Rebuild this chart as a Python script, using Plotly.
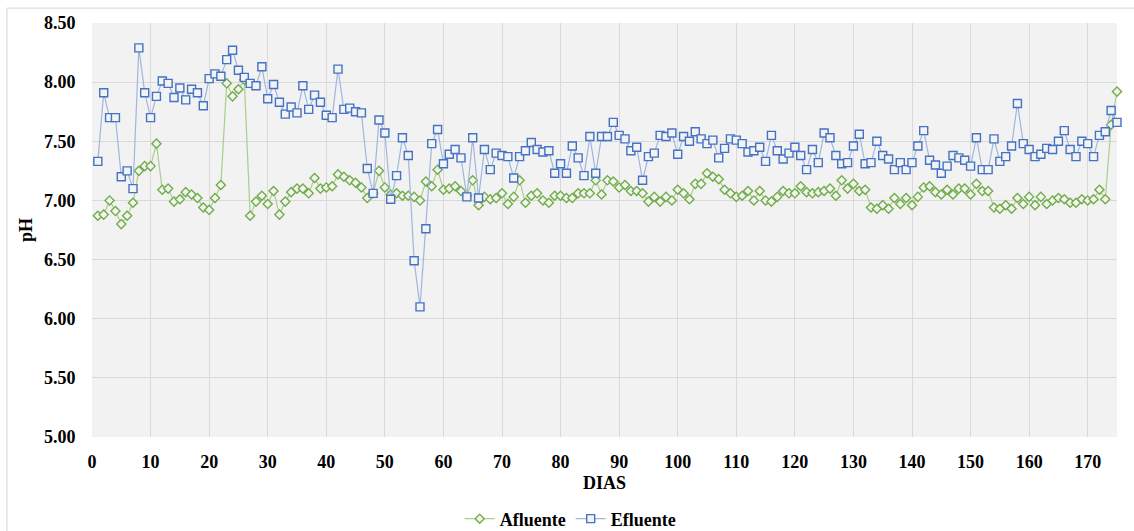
import plotly.graph_objects as go

dias = list(range(1, 176))

afluente = [
    6.87, 6.88, 7.00, 6.91, 6.80, 6.87, 6.98, 7.25, 7.29, 7.29,
    7.48, 7.09, 7.10, 6.99, 7.01, 7.07, 7.05, 7.02, 6.94, 6.92,
    7.02, 7.13, 7.99, 7.88, 7.94, 8.02, 6.87, 6.99, 7.04, 6.97,
    7.08, 6.88, 6.99, 7.07, 7.10, 7.10, 7.06, 7.19, 7.10, 7.11,
    7.12, 7.22, 7.20, 7.17, 7.15, 7.11, 7.02, 7.06, 7.25, 7.11,
    7.05, 7.06, 7.04, 7.04, 7.03, 7.00, 7.16, 7.12, 7.26, 7.09,
    7.10, 7.12, 7.08, 7.04, 7.17, 6.96, 7.03, 7.01, 7.02, 7.06,
    6.97, 7.03, 7.17, 6.98, 7.04, 7.06, 7.00, 6.98, 7.04, 7.04,
    7.02, 7.02, 7.06, 7.06, 7.06, 7.17, 7.05, 7.17, 7.16, 7.11,
    7.13, 7.08, 7.08, 7.06, 6.99, 7.03, 6.99, 7.03, 7.00, 7.09,
    7.06, 7.01, 7.14, 7.14, 7.23, 7.20, 7.18, 7.09, 7.06, 7.03,
    7.04, 7.08, 7.00, 7.08, 7.00, 6.99, 7.03, 7.08, 7.06, 7.06,
    7.12, 7.07, 7.06, 7.07, 7.08, 7.10, 7.04, 7.17, 7.10, 7.14,
    7.08, 7.09, 6.94, 6.93, 6.96, 6.93, 7.02, 6.97, 7.02, 6.96,
    7.03, 7.11, 7.12, 7.07, 7.05, 7.09, 7.05, 7.10, 7.10, 7.05,
    7.14, 7.08, 7.08, 6.94, 6.93, 6.96, 6.93, 7.02, 6.97, 7.03,
    6.96, 7.03, 6.97, 7.00, 7.02, 7.01, 6.98, 6.98, 7.01, 7.00,
    7.01, 7.09, 7.01, 7.64, 7.92,
]

efluente = [
    7.33, 7.91, 7.70, 7.70, 7.20, 7.25, 7.10, 8.29, 7.91, 7.70,
    7.88, 8.01, 7.99, 7.87, 7.95, 7.85, 7.94, 7.91, 7.80, 8.03,
    8.07, 8.05, 8.19, 8.27, 8.10, 8.04, 7.99, 7.97, 8.13, 7.86,
    7.98, 7.83, 7.73, 7.79, 7.74, 7.97, 7.77, 7.89, 7.83, 7.72,
    7.70, 8.11, 7.77, 7.78, 7.75, 7.74, 7.27, 7.06, 7.68, 7.57,
    7.01, 7.21, 7.53, 7.38, 6.49, 6.10, 6.76, 7.48, 7.60, 7.31,
    7.39, 7.43, 7.36, 7.03, 7.53, 7.02, 7.43, 7.26, 7.40, 7.38,
    7.37, 7.19, 7.37, 7.42, 7.49, 7.43, 7.41, 7.42, 7.23, 7.31,
    7.23, 7.46, 7.36, 7.21, 7.54, 7.23, 7.54, 7.54, 7.66, 7.55,
    7.52, 7.42, 7.45, 7.17, 7.37, 7.40, 7.55, 7.54, 7.57, 7.39,
    7.54, 7.50, 7.58, 7.52, 7.48, 7.51, 7.36, 7.44, 7.52, 7.51,
    7.48, 7.41, 7.42, 7.45, 7.33, 7.55, 7.42, 7.35, 7.40, 7.45,
    7.38, 7.26, 7.43, 7.32, 7.57, 7.53, 7.38, 7.31, 7.32, 7.46,
    7.56, 7.31, 7.32, 7.50, 7.38, 7.35, 7.26, 7.32, 7.26, 7.32,
    7.46, 7.59, 7.34, 7.30, 7.23, 7.29, 7.38, 7.36, 7.34, 7.29,
    7.53, 7.26, 7.26, 7.52, 7.33, 7.37, 7.46, 7.82, 7.48, 7.43,
    7.37, 7.39, 7.44, 7.43, 7.50, 7.59, 7.43, 7.37, 7.50, 7.48,
    7.37, 7.55, 7.58, 7.76, 7.66,
]

x_ticks = list(range(0, 171, 10))
y_ticks = [5.0, 5.5, 6.0, 6.5, 7.0, 7.5, 8.0, 8.5]

FONT = "Liberation Serif"
FS = 18

fig = go.Figure()
fig.add_trace(go.Scatter(
    x=dias, y=afluente, name="<b>Afluente</b>", mode="lines+markers",
    line=dict(color="#a9cf8a", width=1.2), cliponaxis=False,
    marker=dict(symbol="diamond", size=7, color="#f3f3f3",
                line=dict(color="#70ad47", width=1.4)),
))
fig.add_trace(go.Scatter(
    x=dias, y=efluente, name="<b>Efluente</b>", mode="lines+markers",
    line=dict(color="#9fb6df", width=1.2), cliponaxis=False,
    marker=dict(symbol="square", size=8, color="#f3f3f3",
                line=dict(color="#4472c4", width=1.4)),
))

fig.update_layout(
    width=1134, height=531,
    margin=dict(l=92, r=17, t=23, b=94, autoexpand=False),
    paper_bgcolor="white",
    plot_bgcolor="#f2f2f2",
    font=dict(family=FONT, size=FS, color="black"),
    showlegend=True,
    legend=dict(orientation="h", x=0.467, xanchor="center", y=-0.198,
                yanchor="middle", font=dict(family=FONT, size=FS, color="black"),
                itemwidth=30, bgcolor="rgba(0,0,0,0)"),
    shapes=[dict(type="rect", xref="paper", yref="paper",
                 x0=-0.0830, x1=1.05, y0=-0.30, y1=1.036,
                 line=dict(color="#d4d4d4", width=1), layer="below")],
)
fig.update_xaxes(
    range=[0, 175], tickvals=x_ticks, ticktext=[f"<b>{v}</b>" for v in x_ticks],
    showgrid=True, gridcolor="#d9d9d9", gridwidth=1, zeroline=False,
    showline=False, ticks="outside", ticklen=8, tickcolor="rgba(0,0,0,0)",
    automargin=False,
    title=dict(text="<b>DIAS</b>", font=dict(family=FONT, size=FS), standoff=5),
    tickfont=dict(family=FONT, size=FS),
)
fig.update_yaxes(
    range=[5, 8.5], tickvals=y_ticks, ticktext=[f"<b>{v:.2f}</b>" for v in y_ticks],
    showgrid=True, gridcolor="#d9d9d9", gridwidth=1, zeroline=False,
    showline=False, ticks="outside", ticklen=12, tickcolor="rgba(0,0,0,0)",
    automargin=False,
    title=dict(text="<b>pH</b>", font=dict(family=FONT, size=FS), standoff=6),
    tickfont=dict(family=FONT, size=FS),
)

fig.write_html("out.html", config={"displayModeBar": False},
               post_script="document.body.style.margin='0px';")
